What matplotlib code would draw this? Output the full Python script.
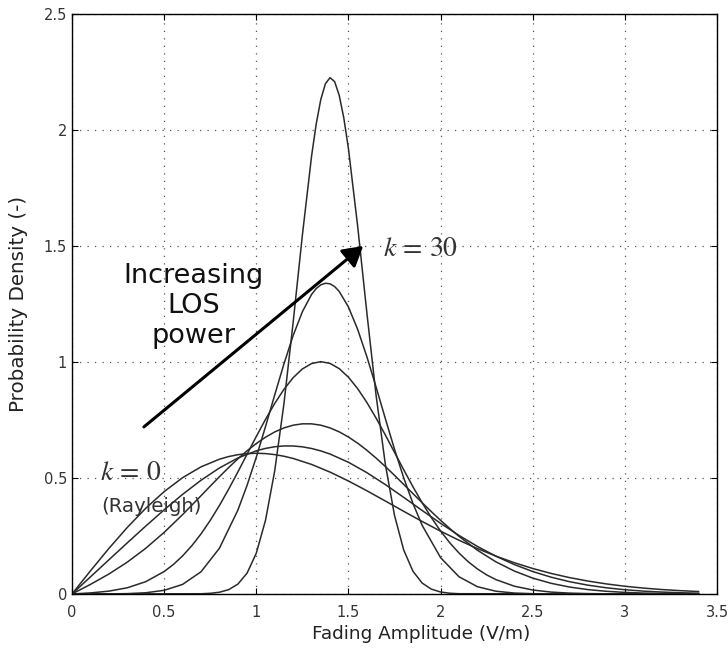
import matplotlib
matplotlib.use("Agg")
import matplotlib.pyplot as plt

# fading amplitude (V/m) and probability density, one pair per k
amp_k0 = [0.0, 0.1, 0.2, 0.3, 0.4, 0.5, 0.6, 0.7, 0.8, 0.85, 0.9, 0.95, 1.0, 1.05, 1.1, 1.15,
          1.2, 1.3, 1.4, 1.5, 1.6, 1.7, 1.8, 1.9, 2.0, 2.1, 2.2, 2.3, 2.4, 2.5, 2.6, 2.7, 2.8,
          2.9, 3.0, 3.1, 3.2, 3.3, 3.4]
pdf_k0 = [0.0, 0.0995, 0.1960, 0.2868, 0.3693, 0.4412, 0.5012, 0.5479, 0.5809, 0.5923, 0.6003,
          0.6050, 0.6065, 0.6051, 0.6007, 0.5937, 0.5841, 0.5584, 0.5254, 0.4870, 0.4449, 0.4008,
          0.3562, 0.3125, 0.2707, 0.2315, 0.1956, 0.1633, 0.1347, 0.1098, 0.0885, 0.0705, 0.0556,
          0.0433, 0.0333, 0.0254, 0.0191, 0.0143, 0.0105]

amp_k1 = [0.0, 0.1, 0.2, 0.3, 0.4, 0.5, 0.6, 0.7, 0.8, 0.9, 1.0, 1.05, 1.1, 1.15, 1.2, 1.25,
          1.3, 1.35, 1.4, 1.5, 1.6, 1.7, 1.8, 1.9, 2.0, 2.1, 2.2, 2.3, 2.4, 2.5, 2.6, 2.7, 2.8,
          2.9, 3.0, 3.1, 3.2, 3.3, 3.4]
pdf_k1 = [0.0, 0.0736, 0.1471, 0.2203, 0.2925, 0.3627, 0.4293, 0.4901, 0.5431, 0.5861, 0.6170,
          0.6275, 0.6345, 0.6380, 0.6379, 0.6342, 0.6271, 0.6167, 0.6032, 0.5677, 0.5230, 0.4717,
          0.4164, 0.3599, 0.3046, 0.2524, 0.2049, 0.1629, 0.1268, 0.0967, 0.0723, 0.0529, 0.0379,
          0.0266, 0.0183, 0.0123, 0.0082, 0.0053, 0.0033]

amp_k2 = [0.0, 0.1, 0.2, 0.3, 0.4, 0.5, 0.6, 0.7, 0.75, 0.8, 0.85, 0.9, 0.95, 1.0, 1.05, 1.1,
          1.15, 1.2, 1.25, 1.3, 1.35, 1.4, 1.45, 1.5, 1.55, 1.6, 1.65, 1.7, 1.75, 1.8, 1.85, 1.9,
          1.95, 2.0, 2.05, 2.1, 2.2, 2.3, 2.4, 2.5, 2.6, 2.7, 2.8, 2.9, 3.0, 3.1, 3.2, 3.3, 3.4]
pdf_k2 = [0.0, 0.0412, 0.0859, 0.1372, 0.1968, 0.2655, 0.3420, 0.4234, 0.4647, 0.5054, 0.5449,
          0.5824, 0.6172, 0.6485, 0.6757, 0.6984, 0.7157, 0.7275, 0.7334, 0.7333, 0.7275, 0.7158,
          0.6988, 0.6766, 0.6500, 0.6195, 0.5857, 0.5495, 0.5114, 0.4722, 0.4327, 0.3933, 0.3548,
          0.3175, 0.2820, 0.2485, 0.1885, 0.1386, 0.0989, 0.0684, 0.0459, 0.0298, 0.0188, 0.0115,
          0.0068, 0.0039, 0.0022, 0.0012, 0.0006]

amp_k5 = [0.0, 0.1, 0.2, 0.3, 0.4, 0.5, 0.55, 0.6, 0.65, 0.7, 0.75, 0.8, 0.85, 0.9, 0.95, 1.0,
          1.05, 1.1, 1.15, 1.2, 1.25, 1.3, 1.35, 1.4, 1.45, 1.5, 1.55, 1.6, 1.65, 1.7, 1.75, 1.8,
          1.85, 1.9, 1.95, 2.0, 2.05, 2.1, 2.15, 2.2, 2.25, 2.3, 2.4, 2.5, 2.6, 2.7, 2.8, 2.9,
          3.0, 3.4]
pdf_k5 = [0.0, 0.0045, 0.0122, 0.0267, 0.0529, 0.0967, 0.1270, 0.1640, 0.2078, 0.2588, 0.3170,
          0.3814, 0.4517, 0.5258, 0.6024, 0.6787, 0.7526, 0.8211, 0.8820, 0.9322, 0.9699, 0.9932,
          1.0014, 0.9939, 0.9713, 0.9344, 0.8851, 0.8255, 0.7582, 0.6856, 0.6105, 0.5354, 0.4623,
          0.3931, 0.3292, 0.2714, 0.2205, 0.1764, 0.1389, 0.1078, 0.0823, 0.0620, 0.0335, 0.0171,
          0.0081, 0.0037, 0.0016, 0.0006, 0.0002, 0.0]

amp_k10 = [0.0, 0.2, 0.3, 0.4, 0.5, 0.6, 0.7, 0.8, 0.9, 0.95, 1.0, 1.05, 1.1, 1.15, 1.2, 1.25,
           1.3, 1.325, 1.35, 1.375, 1.4, 1.425, 1.45, 1.5, 1.55, 1.6, 1.65, 1.7, 1.75, 1.8, 1.85,
           1.9, 2.0, 2.1, 2.2, 2.3, 2.4, 2.5, 2.6, 3.4]
pdf_k10 = [0.0, 0.0004, 0.0015, 0.0052, 0.0157, 0.0412, 0.0956, 0.1971, 0.3613, 0.4682, 0.5896,
           0.7215, 0.8580, 0.9917, 1.1139, 1.2164, 1.2912, 1.3162, 1.3324, 1.3393, 1.3369, 1.3251,
           1.3041, 1.2370, 1.1408, 1.0230, 0.8921, 0.7566, 0.6239, 0.5004, 0.3902, 0.2960, 0.1566,
           0.0742, 0.0313, 0.0119, 0.0040, 0.0012, 0.0003, 0.0]

amp_k30 = [0.0, 0.7, 0.75, 0.8, 0.85, 0.9, 0.95, 1.0, 1.05, 1.1, 1.15, 1.2, 1.25, 1.3, 1.325,
           1.35, 1.375, 1.4, 1.425, 1.45, 1.475, 1.5, 1.55, 1.6, 1.65, 1.7, 1.75, 1.8, 1.85, 1.9,
           1.95, 2.0, 2.05, 2.1, 3.4]
pdf_k30 = [0.0, 0.0010, 0.0028, 0.0075, 0.0185, 0.0425, 0.0898, 0.1757, 0.3176, 0.5306, 0.8196,
           1.1705, 1.5458, 1.8875, 2.0254, 2.1313, 2.1993, 2.2255, 2.2086, 2.1493, 2.0512, 1.9198,
           1.5861, 1.2120, 0.8566, 0.5600, 0.3387, 0.1895, 0.0981, 0.0470, 0.0208, 0.0085, 0.0032,
           0.0011, 0.0]

xticks = [0, 0.5, 1, 1.5, 2, 2.5, 3, 3.5]
xtick_labels = ["0", "0.5", "1", "1.5", "2", "2.5", "3", "3.5"]
yticks = [0, 0.5, 1, 1.5, 2, 2.5]
ytick_labels = ["0", "0.5", "1", "1.5", "2", "2.5"]

plt.rcParams["font.family"] = ["DejaVu Sans"]
plt.rcParams["mathtext.fontset"] = "stix"

fig = plt.figure(figsize=(7.28, 6.5), dpi=100)
ax = fig.add_axes([0.0989, 0.0862, 0.886, 0.8923])

line = dict(color="#2a2a2a", lw=1.1)
for xs, ys in [(amp_k0, pdf_k0), (amp_k1, pdf_k1), (amp_k2, pdf_k2), (amp_k5, pdf_k5),
               (amp_k10, pdf_k10), (amp_k30, pdf_k30)]:
    ax.plot(xs, ys, **line)

ax.set_xlim(0, 3.5)
ax.set_ylim(0, 2.5)
ax.set_xticks(xticks)
ax.set_xticklabels(xtick_labels)
ax.set_yticks(yticks)
ax.set_yticklabels(ytick_labels)
ax.tick_params(direction="in", length=4, top=True, right=True, labelsize=10.5,
               labelcolor="#333333")
ax.tick_params(axis="x", pad=8)
ax.grid(True, color="#555555", lw=0.9, linestyle=(0, (1, 5)))
for s in ax.spines.values():
    s.set_linewidth(1.0)

ax.set_xlabel("Fading Amplitude (V/m)", fontsize=13.3, color="#222222")
ax.xaxis.set_label_coords(0.541, -0.053)
ax.set_ylabel("Probability Density (-)", fontsize=14.3, color="#222222")
ax.yaxis.set_label_coords(-0.068, 0.5)

# arrow showing the growth of LOS power
ax.annotate("", xy=(1.58, 1.5), xytext=(0.39, 0.72),
            arrowprops=dict(arrowstyle="-|>,head_length=0.6,head_width=0.35",
                            color="black", lw=2.2, mutation_scale=20, shrinkA=0, shrinkB=0))
ax.text(0.66, 1.24, "Increasing\nLOS\npower", fontsize=19.5, ha="center", va="center",
        linespacing=1.2, color="#111111")
ax.text(1.69, 1.49, r"$k\,=\,30$", fontsize=20, ha="left", va="center", color="#333333")
ax.text(0.15, 0.526, r"$k\,=\,0$", fontsize=20, ha="left", va="center", color="#333333")
ax.text(0.16, 0.375, "(Rayleigh)", fontsize=14.2, ha="left", va="center", color="#333333")

fig.savefig("out.png", dpi=100)
